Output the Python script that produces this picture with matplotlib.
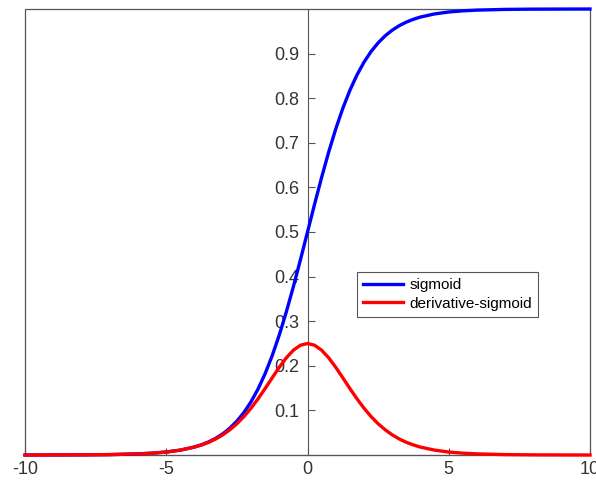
import matplotlib.pyplot as plt

# values
x_vals = [-10, -8, -7, -6, -5.5, -5, -4.5, -4,
          -3.75, -3.5, -3.25, -3, -2.75, -2.5, -2.25, -2,
          -1.75, -1.5, -1.25, -1, -0.75, -0.5, -0.25, 0,
          0.25, 0.5, 0.75, 1, 1.25, 1.5, 1.75, 2,
          2.25, 2.5, 2.75, 3, 3.25, 3.5, 3.75,
          4, 4.5, 5, 5.5, 6, 7, 8, 10]
sigmoid = [0.0000, 0.0003, 0.0009, 0.0025, 0.0041, 0.0067, 0.0110, 0.0180,
           0.0230, 0.0293, 0.0373, 0.0474, 0.0601, 0.0759, 0.0953, 0.1192,
           0.1480, 0.1824, 0.2227, 0.2689, 0.3208, 0.3775, 0.4378, 0.5000,
           0.5622, 0.6225, 0.6792, 0.7311, 0.7773, 0.8176, 0.8520, 0.8808,
           0.9047, 0.9241, 0.9399, 0.9526, 0.9627, 0.9707, 0.9770,
           0.9820, 0.9890, 0.9933, 0.9959, 0.9975, 0.9991, 0.9997, 1.0000]
deriv = [0.0000, 0.0003, 0.0009, 0.0025, 0.0041, 0.0066, 0.0109, 0.0177,
         0.0225, 0.0284, 0.0359, 0.0452, 0.0565, 0.0701, 0.0862, 0.1050,
         0.1261, 0.1491, 0.1731, 0.1966, 0.2179, 0.2350, 0.2461, 0.2500,
         0.2461, 0.2350, 0.2179, 0.1966, 0.1731, 0.1491, 0.1261, 0.1050,
         0.0862, 0.0701, 0.0565, 0.0452, 0.0359, 0.0284, 0.0225,
         0.0177, 0.0109, 0.0066, 0.0041, 0.0025, 0.0009, 0.0003, 0.0000]
x_ticks = [-10, -5, 0, 5, 10]
y_ticks = [0.1, 0.2, 0.3, 0.4, 0.5, 0.6, 0.7, 0.8, 0.9]

plt.rcParams['font.family'] = ['Liberation Sans', 'DejaVu Sans']
plt.rcParams['axes.unicode_minus'] = False
axis_col = '#555555'

fig = plt.figure(figsize=(5.96, 4.82), dpi=100)
ax = fig.add_axes([25 / 596, 27 / 482, 565 / 596, 446 / 482])

ax.plot(x_vals, sigmoid, color='#0000ff', lw=2.4, label='sigmoid', clip_on=False, zorder=3)
ax.plot(x_vals, deriv, color='#ff0000', lw=2.4, label='derivative-sigmoid', clip_on=False, zorder=3)

ax.set_xlim(-10, 10)
ax.set_ylim(0, 1)
ax.set_xticks(x_ticks)
ax.set_yticks(y_ticks)
ax.set_yticklabels([f'{v:g}' for v in y_ticks])

# y axis through the origin, box drawn by the axes patch
ax.spines['left'].set_position(('data', 0))
for s in ['top', 'right']:
    ax.spines[s].set_visible(False)
for s in ['left', 'bottom']:
    ax.spines[s].set_color(axis_col)
    ax.spines[s].set_linewidth(0.8)
ax.patch.set_edgecolor(axis_col)
ax.patch.set_linewidth(0.9)

ax.tick_params(axis='both', direction='in', length=5, width=0.8, color=axis_col,
               labelsize=13, labelcolor='#333333')
ax.tick_params(axis='x', pad=4)
ax.tick_params(axis='y', pad=6)

leg = ax.legend(loc='upper left', bbox_to_anchor=(0.588, 0.41), fontsize=11,
                frameon=True, fancybox=False, framealpha=1, handlelength=2.6,
                borderpad=0.4, labelspacing=0.3, handletextpad=0.4, borderaxespad=0)
leg.get_frame().set_edgecolor('#555555')
leg.get_frame().set_linewidth(0.8)

fig.savefig('out.png', dpi=100)
